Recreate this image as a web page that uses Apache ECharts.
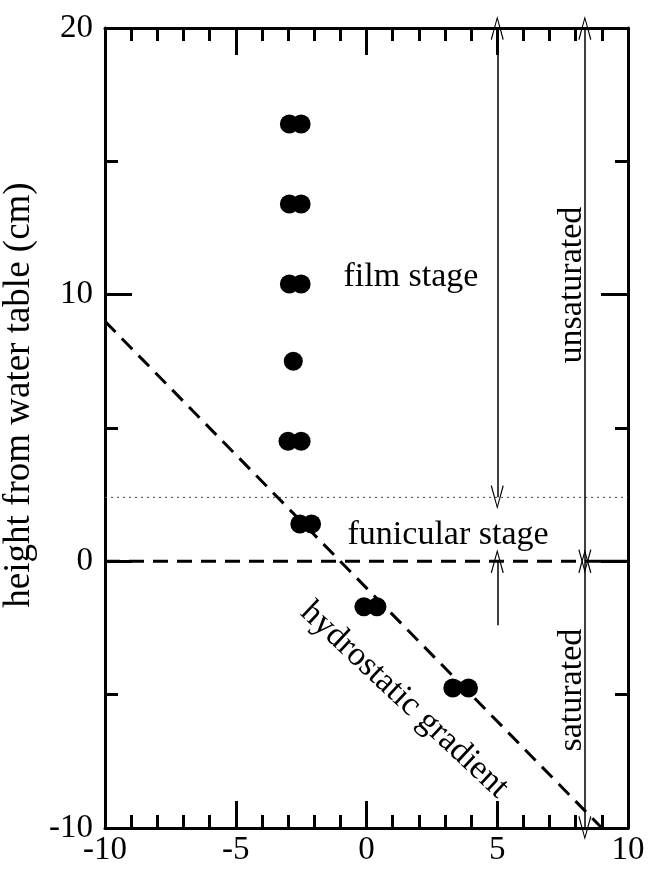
<!DOCTYPE html>
<html>
<head>
<meta charset="utf-8">
<script src="https://cdn.jsdelivr.net/npm/echarts@6/dist/echarts.min.js"></script>
<style>html,body{margin:0;padding:0;background:#fff;}#c{width:650px;height:872px;}</style>
</head>
<body>
<div id="c"></div>
<script>
// ---- data ----
const pointX = [-2.95, -2.5, -2.95, -2.5, -2.95, -2.5, -2.8, -3.0, -2.5, -2.55, -2.1, -0.1, 0.4, 3.3, 3.9];
const pointY = [16.4, 16.4, 13.4, 13.4, 10.4, 10.4, 7.5, 4.5, 4.5, 1.4, 1.4, -1.7, -1.7, -4.75, -4.75];
const hydroX = [-10, 9];
const hydroY = [9, -10];
const waterTableY = 0;
const funicularTopY = 2.4;
const arrowXStage = 5;
const arrowXSat = 8.35;
const stageBottomY = -2.4;
const xTicks = [-10, -5, 0, 5, 10];
const yTicks = [-10, 0, 10, 20];
const labelTexts = ['film stage', 'funicular stage', 'unsaturated', 'saturated', 'hydrostatic gradient'];
const labelX = [1.70, 3.12, 7.86, 7.86, 1.45];
const labelY = [10.66, 1.0, 10.36, -4.83, -5.2];
const labelRotate = [0, 0, 90, 90, -43];

const FONT = 'Liberation Serif';
const black = '#000';

const chart = echarts.init(document.getElementById('c'), null, {renderer: 'canvas'});

function xAxisDef(pos, showLabel) {
  return {
    type: 'value', position: pos, min: xTicks[0], max: xTicks[xTicks.length - 1], interval: 5,
    axisLine: {show: true, onZero: false, lineStyle: {color: black, width: 3}},
    axisTick: {show: true, inside: true, length: 27, lineStyle: {color: black, width: 3}},
    minorTick: {show: true, splitNumber: 5, length: 13, lineStyle: {color: black, width: 3}},
    axisLabel: {show: showLabel, fontFamily: FONT, fontSize: 33, color: black, margin: 6},
    splitLine: {show: false}
  };
}
function yAxisDef(pos, showLabel) {
  const a = {
    type: 'value', position: pos, min: yTicks[0], max: yTicks[yTicks.length - 1], interval: 10,
    axisLine: {show: true, onZero: false, lineStyle: {color: black, width: 3}},
    axisTick: {show: true, inside: true, length: 27, lineStyle: {color: black, width: 3}},
    minorTick: {show: true, splitNumber: 2, length: 13, lineStyle: {color: black, width: 3}},
    axisLabel: {show: showLabel, fontFamily: FONT, fontSize: 33, color: black, margin: 12},
    splitLine: {show: false}
  };
  if (showLabel) {
    a.name = 'height from water table (cm)';
    a.nameLocation = 'middle';
    a.nameGap = 51;
    a.nameTextStyle = {fontFamily: FONT, fontSize: 37, color: black, padding: [0, 0, 0, 66]};
  }
  return a;
}

const arrowSym = 'path://M0,0 L6,18 L5,18.6 L0,3 L-5,18.6 L-6,18 Z';

const option = {
  animation: false,
  backgroundColor: '#fff',
  grid: {left: 105, right: 22, top: 28, bottom: 44, outerBoundsMode: 'none', containLabel: false},
  xAxis: [xAxisDef('bottom', true), xAxisDef('top', false)],
  yAxis: [yAxisDef('left', true), yAxisDef('right', false)],
  series: [
    {
      type: 'line', name: 'funicular top', data: [[xTicks[0], funicularTopY], [xTicks[xTicks.length - 1], funicularTopY]],
      symbol: 'none', lineStyle: {color: '#444', width: 1, type: [2, 4]}, z: 1
    },
    {
      type: 'line', name: 'water table dashed', data: [[xTicks[0], waterTableY], [arrowXSat, waterTableY]],
      symbol: 'none', lineStyle: {color: black, width: 3, type: [15, 9]}, z: 2
    },
    {
      type: 'line', name: 'water table solid', data: [[arrowXSat, waterTableY], [xTicks[xTicks.length - 1], waterTableY]],
      symbol: 'none', lineStyle: {color: black, width: 3}, z: 2
    },
    {
      type: 'line', name: 'hydrostatic', data: hydroX.map((x, i) => [x, hydroY[i]]),
      symbol: 'none', lineStyle: {color: black, width: 3, type: [15, 9]}, z: 2
    },
    {
      type: 'scatter', name: 'arrows', data: [],
      markLine: {
        silent: true, animation: false,
        symbol: [arrowSym, arrowSym], symbolSize: [13, 24],
        label: {show: false},
        lineStyle: {color: black, width: 1.5, type: 'solid'},
        data: [
          [{coord: [arrowXStage, funicularTopY]}, {coord: [arrowXStage, yTicks[yTicks.length - 1]]}],
          [{coord: [arrowXStage, stageBottomY], symbol: 'none'}, {coord: [arrowXStage, waterTableY]}],
          [{coord: [arrowXSat, waterTableY]}, {coord: [arrowXSat, yTicks[yTicks.length - 1]]}],
          [{coord: [arrowXSat, yTicks[0]]}, {coord: [arrowXSat, waterTableY]}]
        ]
      }
    },
    {
      type: 'scatter', name: 'data', data: pointX.map((x, i) => [x, pointY[i]]),
      symbol: 'circle', symbolSize: 19, itemStyle: {color: black, opacity: 1}, z: 5
    },
    {
      type: 'scatter', name: 'labels', symbolSize: 0, itemStyle: {color: black, opacity: 1}, z: 6,
      data: labelTexts.map((t, i) => ({
        value: [labelX[i], labelY[i]],
        label: {show: true, formatter: t, rotate: labelRotate[i]}
      })),
      label: {show: true, position: 'inside', align: 'center', verticalAlign: 'middle',
        fontFamily: FONT, fontSize: 34, color: '#000', opacity: 1, textBorderWidth: 0},
      emphasis: {disabled: true},
      labelLayout: {hideOverlap: false}
    }
  ]
};
chart.setOption(option);
</script>
</body>
</html>
